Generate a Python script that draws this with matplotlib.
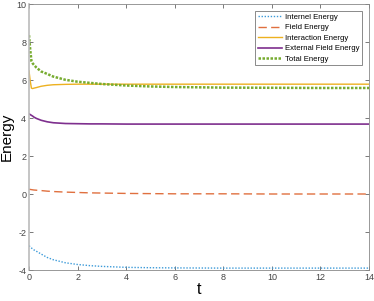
import numpy as np
import matplotlib
matplotlib.use("Agg")
import matplotlib.pyplot as plt

plt.rcParams['font.family'] = ['Liberation Sans', 'DejaVu Sans']
plt.rcParams['axes.unicode_minus'] = False

t = [0, 0.05, 0.1, 0.15, 0.2, 0.3, 0.5, 0.75, 1.0, 1.5, 2.0, 2.5, 3.0, 4.0, 5.0, 6.0, 8.0, 10.0, 12.0, 14.0]
internal = [-2.72, -2.78, -2.84, -2.89, -2.94, -3.01, -3.16, -3.34, -3.46, -3.62, -3.71, -3.77, -3.81, -3.86, -3.88, -3.89, -3.90, -3.90, -3.90, -3.90]
field = [0.25, 0.24, 0.23, 0.22, 0.21, 0.20, 0.18, 0.15, 0.13, 0.10, 0.08, 0.06, 0.05, 0.03, 0.02, 0.01, 0.01, 0.00, 0.00, 0.00]
interaction = [6.48, 5.95, 5.57, 5.55, 5.57, 5.60, 5.67, 5.72, 5.75, 5.77, 5.78, 5.78, 5.78, 5.78, 5.78, 5.78, 5.78, 5.78, 5.78, 5.78]
external = [4.22, 4.18, 4.14, 4.10, 4.05, 3.98, 3.88, 3.80, 3.75, 3.71, 3.70, 3.69, 3.69, 3.68, 3.68, 3.68, 3.68, 3.68, 3.68, 3.68]
total = [8.36, 7.60, 7.00, 6.88, 6.80, 6.66, 6.45, 6.32, 6.18, 6.01, 5.91, 5.85, 5.79, 5.71, 5.66, 5.63, 5.60, 5.59, 5.58, 5.58]

labels = ['Internel Energy', 'Field Energy', 'Interaction Energy', 'External Field Energy', 'Total Energy']
xticks = [0, 2, 4, 6, 8, 10, 12, 14]
yticks = [-4, -2, 0, 2, 4, 6, 8, 10]

fig = plt.figure(figsize=(3.74, 3.01), dpi=100)
ax = fig.add_axes([29/374, 1 - 270/301, (369 - 29)/374, (270 - 4)/301])

ax.plot(t, internal, color='#3D9BD9', lw=1.0, dashes=(1, 1.2), label=labels[0])
ax.plot(t, field, color='#E0703F', lw=1.0, dashes=(6, 3.1), label=labels[1])
ax.plot(t, interaction, '-', color='#EDB120', lw=1.0, label=labels[2])
ax.plot(t, external, '-', color='#7E2F8E', lw=1.2, label=labels[3])
ax.plot(t, total, color='#77AC30', lw=1.8, dashes=(1, 0.6), label=labels[4])

ax.set_xlim(0, 14)
ax.set_ylim(-4, 10)
ax.set_xticks(xticks)
ax.set_yticks(yticks)
ax.tick_params(direction='in', length=3, width=0.5, labelsize=6.5, colors='#444444',
               top=True, right=True, pad=2)
for s in ax.spines.values():
    s.set_color('#888888')
    s.set_linewidth(0.6)
ax.spines['left'].set_linewidth(1.2)
ax.spines['left'].set_color('#BBBBBB')

ax.set_xlabel('t', fontsize=11.5, labelpad=0)
ax.set_ylabel('Energy', fontsize=11, labelpad=2)

leg = ax.legend(loc='upper right', fontsize=5.6, frameon=True, fancybox=False,
                edgecolor='#555555', handlelength=3.1, handletextpad=0.4,
                labelspacing=0.4, borderpad=0.3, borderaxespad=0,
                bbox_to_anchor=(1 - 7.3/340, 1 - 7/266))
leg.get_frame().set_linewidth(0.6)

fig.savefig('out.png', dpi=100)
